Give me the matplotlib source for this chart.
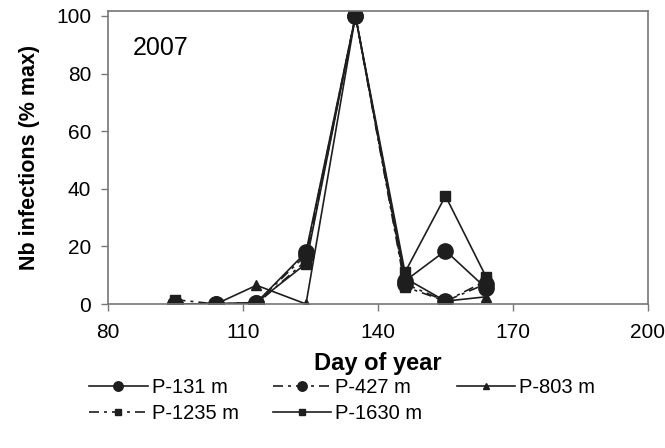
import matplotlib.pyplot as plt

plt.rcParams['font.family'] = ['Liberation Sans', 'DejaVu Sans']

days = [95, 104, 113, 124, 135, 146, 155, 164]

p131 = [0, 0, 0.5, 18, 100, 8, 18.5, 5.5]
p427 = [0, 0, 0.5, 17, 100, 7, 1, 7]
p803 = [0, 0, 6.5, 0, 100, 9, 1, 2.5]
p1235 = [1.5, 0, 0, 15, 100, 6, 1, 8]
p1630 = [0, 0, 0.5, 14, 100, 11, 37.5, 9.5]

fig = plt.figure(figsize=(6.65, 4.48), dpi=100)
ax = fig.add_axes([0.1624, 0.3214, 0.812, 0.654])

ink = '#1e1e1e'
dash = (0, (6, 3, 1.8, 3))

l1, = ax.plot(days, p131, color=ink, lw=1.2, marker='o', ms=11, label='P-131 m')
l2, = ax.plot(days, p427, color=ink, lw=1.2, ls=dash, marker='o', ms=11, label='P-427 m')
l3, = ax.plot(days, p803, color=ink, lw=1.2, marker='^', ms=7, label='P-803 m')
l4, = ax.plot(days, p1235, color=ink, lw=1.2, ls=dash, marker='s', ms=7, label='P-1235 m')
l5, = ax.plot(days, p1630, color=ink, lw=1.2, marker='s', ms=7, label='P-1630 m')

ax.set_xlim(80, 200)
ax.set_ylim(0, 101.7)
ax.set_xticks([80, 110, 140, 170, 200])
ax.set_yticks([0, 20, 40, 60, 80, 100])
ax.tick_params(direction='out', length=5, width=1, color='#777777', labelsize=15)
ax.tick_params(axis='x', pad=9)
ax.tick_params(axis='y', pad=7)
for s in ax.spines.values():
    s.set_color('#777777')
    s.set_linewidth(1.2)

ax.set_xlabel('Day of year', fontsize=17, fontweight='bold', labelpad=7)
ax.set_ylabel('Nb infections (% max)', fontsize=15.5, fontweight='bold', labelpad=12)
ax.text(85.5, 89, '2007', fontsize=18, va='center')

handles = [l1, l4, l2, l5, l3]
fig.legend(handles, [h.get_label() for h in handles], ncol=3, loc='upper left',
           bbox_to_anchor=(0.122, 0.175), frameon=False, fontsize=14.5,
           handlelength=2.9, handletextpad=0.2, columnspacing=1.7,
           labelspacing=0.35, borderaxespad=0, markerscale=0.62)

fig.savefig('out.png', dpi=100)
